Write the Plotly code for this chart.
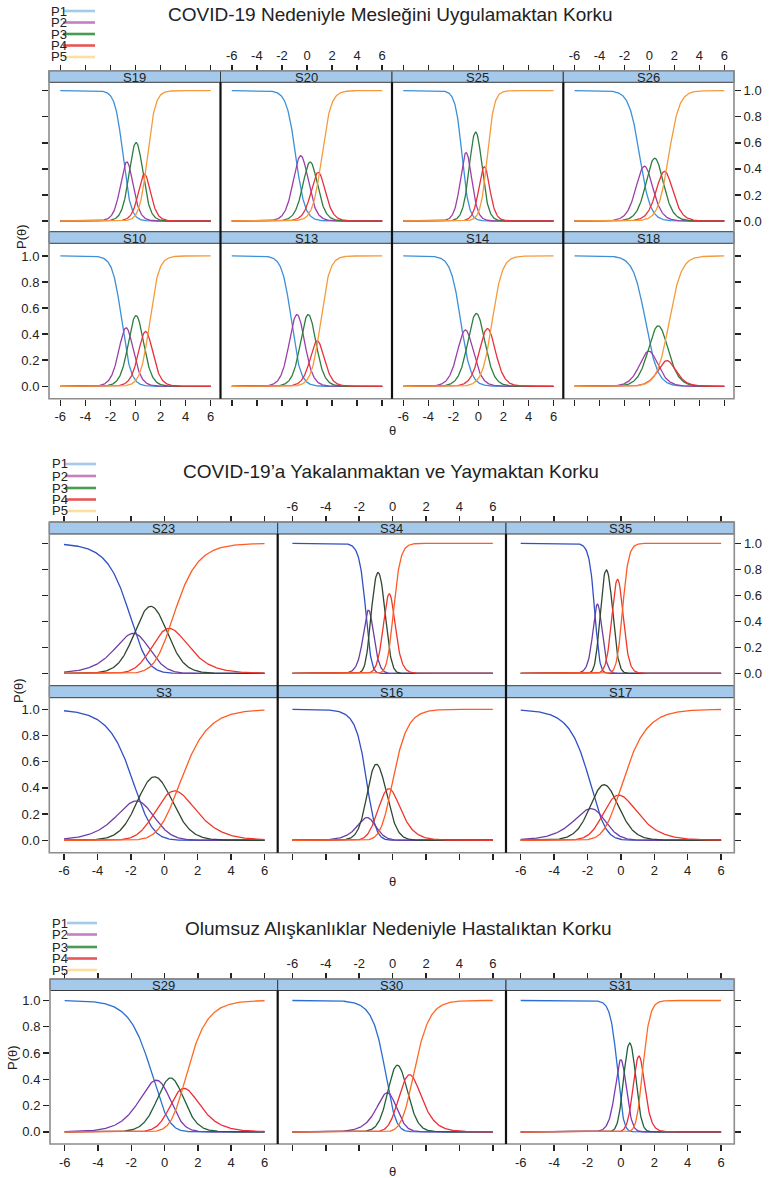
import numpy as np
import plotly.graph_objects as go

W, H = 782, 1178
FONT = "Liberation Sans"
TXT = "#222222"

# ---------------- data (item parameters) ----------------
CATEGORIES = ["P1", "P2", "P3", "P4", "P5"]
X_TICKS = [-6, -4, -2, 0, 2, 4, 6]
X_TICK_TEXT = ["-6", "-4", "-2", "0", "2", "4", "6"]
Y_TICKS = [0.0, 0.2, 0.4, 0.6, 0.8, 1.0]
Y_TICK_TEXT = ["0.0", "0.2", "0.4", "0.6", "0.8", "1.0"]
THETA_LABEL = "θ"
P_LABEL = "P(θ)"

# Section 1: graded response model (slope a, thresholds b1..b4)
S1_TITLE = "COVID-19 Nedeniyle Mesleğini Uygulamaktan Korku"
S1_MODEL = "grm"
S1_ITEMS = ["S19", "S20", "S25", "S26", "S10", "S13", "S14", "S18"]
S1_SLOPES = [3.2, 2.75, 3.7, 2.36, 2.76, 2.75, 2.5, 2.05]
S1_STEPS = [
    [-1.00, -0.39, 0.48, 0.95],
    [-0.90, -0.10, 0.61, 1.18],
    [-1.30, -0.67, 0.23, 0.71],
    [-0.78, -0.02, 0.87, 1.55],
    [-1.10, -0.40, 0.48, 1.13],
    [-1.25, -0.35, 0.55, 1.08],
    [-1.41, -0.67, 0.34, 1.10],
    [-0.32, 0.22, 1.20, 1.59],
]

# Section 2: generalized partial credit model (slope a, step parameters d1..d4)
S2_TITLE = "COVID-19’a Yakalanmaktan ve Yaymaktan Korku"
S2_MODEL = "gpcm"
S2_ITEMS = ["S23", "S34", "S35", "S3", "S16", "S17"]
S2_SLOPES = [1.1, 4.6, 5.5, 1.0, 1.9, 1.1]
S2_STEPS = [
    [-1.70, -1.80, 0.10, 0.30],
    [-1.58, -1.30, -0.45, 0.05],
    [-1.55, -1.25, -0.50, 0.10],
    [-1.45, -1.60, 0.25, 0.75],
    [-1.05, -1.90, -0.40, -0.10],
    [-1.30, -1.90, -0.40, -0.15],
]

# Section 3: generalized partial credit model
S3_TITLE = "Olumsuz Alışkanlıklar Nedeniyle Hastalıktan Korku"
S3_MODEL = "gpcm"
S3_ITEMS = ["S29", "S30", "S31"]
S3_SLOPES = [1.25, 1.9, 4.5]
S3_STEPS = [
    [-0.64, -0.08, 0.92, 1.08],
    [-0.20, -0.30, 0.72, 1.22],
    [-0.20, 0.20, 0.85, 1.30],
]

S1_COLORS = ["#3c8fd8", "#9b3fa8", "#2e7d3e", "#e8313c", "#f59a3c"]
S2_COLORS = ["#3050c4", "#6c3ea3", "#2f472f", "#f0362a", "#ff5a22"]
S3_COLORS = ["#2b6fd2", "#7a38b0", "#20603c", "#f02a36", "#ff6a22"]
LEGEND_COLORS = ["#a6cbe9", "#c47fc0", "#4a9a4f", "#e85656", "#fddf9f"]
STRIP_FILL = "#a5c9eb"

THETA = np.linspace(-6, 6, 361)


def gpcm(theta, a, steps):
    z = [np.zeros_like(theta)]
    for d in steps:
        z.append(z[-1] + a * (theta - d))
    z = np.array(z)
    z = z - z.max(axis=0)
    e = np.exp(z)
    return e / e.sum(axis=0)


def grm(theta, a, steps):
    cum = [np.ones_like(theta)]
    for b in steps:
        cum.append(1.0 / (1.0 + np.exp(-a * (theta - b))))
    cum.append(np.zeros_like(theta))
    cum = np.array(cum)
    return cum[:-1] - cum[1:]


MODELS = {"gpcm": gpcm, "grm": grm}


def fx(p):
    return p / W


def fy(p):
    return 1 - p / H


SECTIONS = [
    dict(title=S1_TITLE, model=S1_MODEL, items=S1_ITEMS, slopes=S1_SLOPES, steps=S1_STEPS,
         colors=S1_COLORS, cols=[49, 220.5, 392, 563.3, 734],
         rows=[dict(strip=70.7, top=82.3, bottom=231.7, yr=[-0.082, 1.064]),
               dict(strip=231.7, top=243.3, bottom=398.7, yr=[-0.095, 1.097])],
         xr=[-6.9, 6.78], top_lab={1, 3}, bot_lab={0, 2}, left_row=1, right_row=0,
         title_xy=(390, 15), leg_x=49, leg_ys=[11, 22.5, 34, 45.5, 57], leg_line=(63, 95),
         p_xy=(21, 237), t_xy=(392, 431)),
    dict(title=S2_TITLE, model=S2_MODEL, items=S2_ITEMS, slopes=S2_SLOPES, steps=S2_STEPS,
         colors=S2_COLORS, cols=[49.3, 277.7, 506, 734.3],
         rows=[dict(strip=522, top=534, bottom=685.7, yr=[-0.095, 1.072]),
               dict(strip=685.7, top=697.7, bottom=852.7, yr=[-0.095, 1.089])],
         xr=[-6.88, 6.79], top_lab={1}, bot_lab={0, 2}, left_row=1, right_row=0,
         title_xy=(391, 471), leg_x=50, leg_ys=[464, 476, 488, 499.5, 511], leg_line=(65, 96),
         p_xy=(18, 691), t_xy=(392, 881)),
    dict(title=S3_TITLE, model=S3_MODEL, items=S3_ITEMS, slopes=S3_SLOPES, steps=S3_STEPS,
         colors=S3_COLORS, cols=[50, 277.7, 506, 734.3],
         rows=[dict(strip=979, top=990.5, bottom=1144, yr=[-0.093, 1.076])],
         xr=[-6.88, 6.79], top_lab={1}, bot_lab={0, 2}, left_row=0, right_row=None,
         title_xy=(398, 928), leg_x=50, leg_ys=[923, 934.5, 947, 958.5, 970], leg_line=(67, 97),
         p_xy=(12, 1058), t_xy=(392, 1171)),
]

fig = go.Figure()
layout = {}
shapes = []
annos = []
counter = {"x": 0, "y": 0}


def new_axis(kind):
    counter[kind] += 1
    i = counter[kind]
    name = f"{kind}axis" if i == 1 else f"{kind}axis{i}"
    ref = kind if i == 1 else f"{kind}{i}"
    return name, ref


tick_common = dict(showgrid=False, zeroline=False, showline=False, ticks="outside",
                   ticklen=6, tickwidth=1.5, tickcolor=TXT,
                   tickfont=dict(family=FONT, size=13, color=TXT))

for sec in SECTIONS:
    cols = sec["cols"]
    ncol = len(cols) - 1
    nrow = len(sec["rows"])
    model = MODELS[sec["model"]]
    for idx, item in enumerate(sec["items"]):
        r, c = divmod(idx, ncol)
        row = sec["rows"][r]
        L, R = cols[c], cols[c + 1]
        xname, xref = new_axis("x")
        yname, yref = new_axis("y")
        xa = dict(domain=[fx(L), fx(R)], range=sec["xr"], tickvals=X_TICKS, ticktext=X_TICK_TEXT,
                  **tick_common)
        is_top = r == 0
        is_bot = r == nrow - 1
        if is_bot:
            xa.update(anchor=yref, side="bottom", showticklabels=c in sec["bot_lab"])
        elif is_top:
            xa.update(anchor="free", position=fy(row["strip"]), side="top",
                      showticklabels=c in sec["top_lab"])
        layout[xname] = xa

        ya = dict(domain=[fy(row["bottom"]), fy(row["top"])], range=row["yr"], anchor=xref,
                  tickvals=Y_TICKS, ticktext=Y_TICK_TEXT, **tick_common)
        if c == 0:
            ya.update(side="left", showticklabels=(r == sec["left_row"]))
        elif c == ncol - 1:
            ya.update(side="right", showticklabels=(r == sec["right_row"]))
        else:
            ya.update(ticks="", showticklabels=False)
        layout[yname] = ya

        probs = model(THETA, sec["slopes"][idx], sec["steps"][idx])
        for k, cat in enumerate(CATEGORIES):
            fig.add_trace(go.Scatter(x=THETA, y=probs[k], mode="lines", name=cat,
                                     line=dict(color=sec["colors"][k], width=1.3),
                                     xaxis=xref, yaxis=yref, showlegend=False,
                                     hoverinfo="skip"))

        if is_top and is_bot:
            tname, tref = new_axis("x")
            ta = dict(overlaying=xref, anchor="free", position=fy(row["strip"]), side="top",
                      range=sec["xr"], tickvals=X_TICKS, ticktext=X_TICK_TEXT,
                      showticklabels=c in sec["top_lab"], **tick_common)
            layout[tname] = ta
            fig.add_trace(go.Scatter(x=[None], y=[None], mode="lines", xaxis=tref, yaxis=yref,
                                     showlegend=False, hoverinfo="skip"))

        # strip
        shapes.append(dict(type="rect", xref="paper", yref="paper", x0=fx(L), x1=fx(R),
                           y0=fy(row["top"]), y1=fy(row["strip"]), fillcolor=STRIP_FILL,
                           line=dict(color="#3a3a3a", width=1), layer="above"))
        annos.append(dict(text=item, x=fx((L + R) / 2), y=fy((row["top"] + row["strip"]) / 2 + 0.5),
                          xref="paper", yref="paper", showarrow=False, xanchor="center",
                          yanchor="middle", font=dict(family=FONT, size=13, color=TXT)))

    # outer frame
    top0 = sec["rows"][0]["strip"]
    botN = sec["rows"][-1]["bottom"]
    shapes.append(dict(type="rect", xref="paper", yref="paper", x0=fx(cols[0]), x1=fx(cols[-1]),
                       y0=fy(botN), y1=fy(top0), line=dict(color="#8c8c8c", width=1.6),
                       layer="above"))
    for xc in cols[1:-1]:
        shapes.append(dict(type="line", xref="paper", yref="paper", x0=fx(xc), x1=fx(xc),
                           y0=fy(botN), y1=fy(sec["rows"][0]["top"]),
                           line=dict(color="#111111", width=2.2), layer="above"))
    # title
    tx, ty = sec["title_xy"]
    annos.append(dict(text=sec["title"], x=fx(tx), y=fy(ty), xref="paper", yref="paper",
                      showarrow=False, xanchor="center", yanchor="middle",
                      font=dict(family=FONT, size=19, color=TXT)))
    # legend
    for k, cat in enumerate(CATEGORIES):
        ly = sec["leg_ys"][k]
        annos.append(dict(text=cat, x=fx(sec["leg_x"]), y=fy(ly), xref="paper", yref="paper",
                          showarrow=False, xanchor="left", yanchor="middle",
                          font=dict(family=FONT, size=13, color=TXT)))
        shapes.append(dict(type="line", xref="paper", yref="paper",
                           x0=fx(sec["leg_line"][0]), x1=fx(sec["leg_line"][1]),
                           y0=fy(ly), y1=fy(ly), line=dict(color=LEGEND_COLORS[k], width=2.6)))
    px_, py_ = sec["p_xy"]
    annos.append(dict(text=P_LABEL, x=fx(px_), y=fy(py_), xref="paper", yref="paper",
                      showarrow=False, xanchor="center", yanchor="middle", textangle=-90,
                      font=dict(family=FONT, size=13, color=TXT)))
    tx, ty = sec["t_xy"]
    annos.append(dict(text=THETA_LABEL, x=fx(tx), y=fy(ty), xref="paper", yref="paper",
                      showarrow=False, xanchor="center", yanchor="middle",
                      font=dict(family=FONT, size=13, color=TXT)))

fig.update_layout(width=W, height=H, margin=dict(l=0, r=0, t=0, b=0),
                  paper_bgcolor="white", plot_bgcolor="white", showlegend=False,
                  shapes=shapes, annotations=annos, **layout)
fig.write_html("out.html", config={"displayModeBar": False, "staticPlot": True},
               post_script="document.body.style.margin='0';document.body.style.overflow='hidden';")
